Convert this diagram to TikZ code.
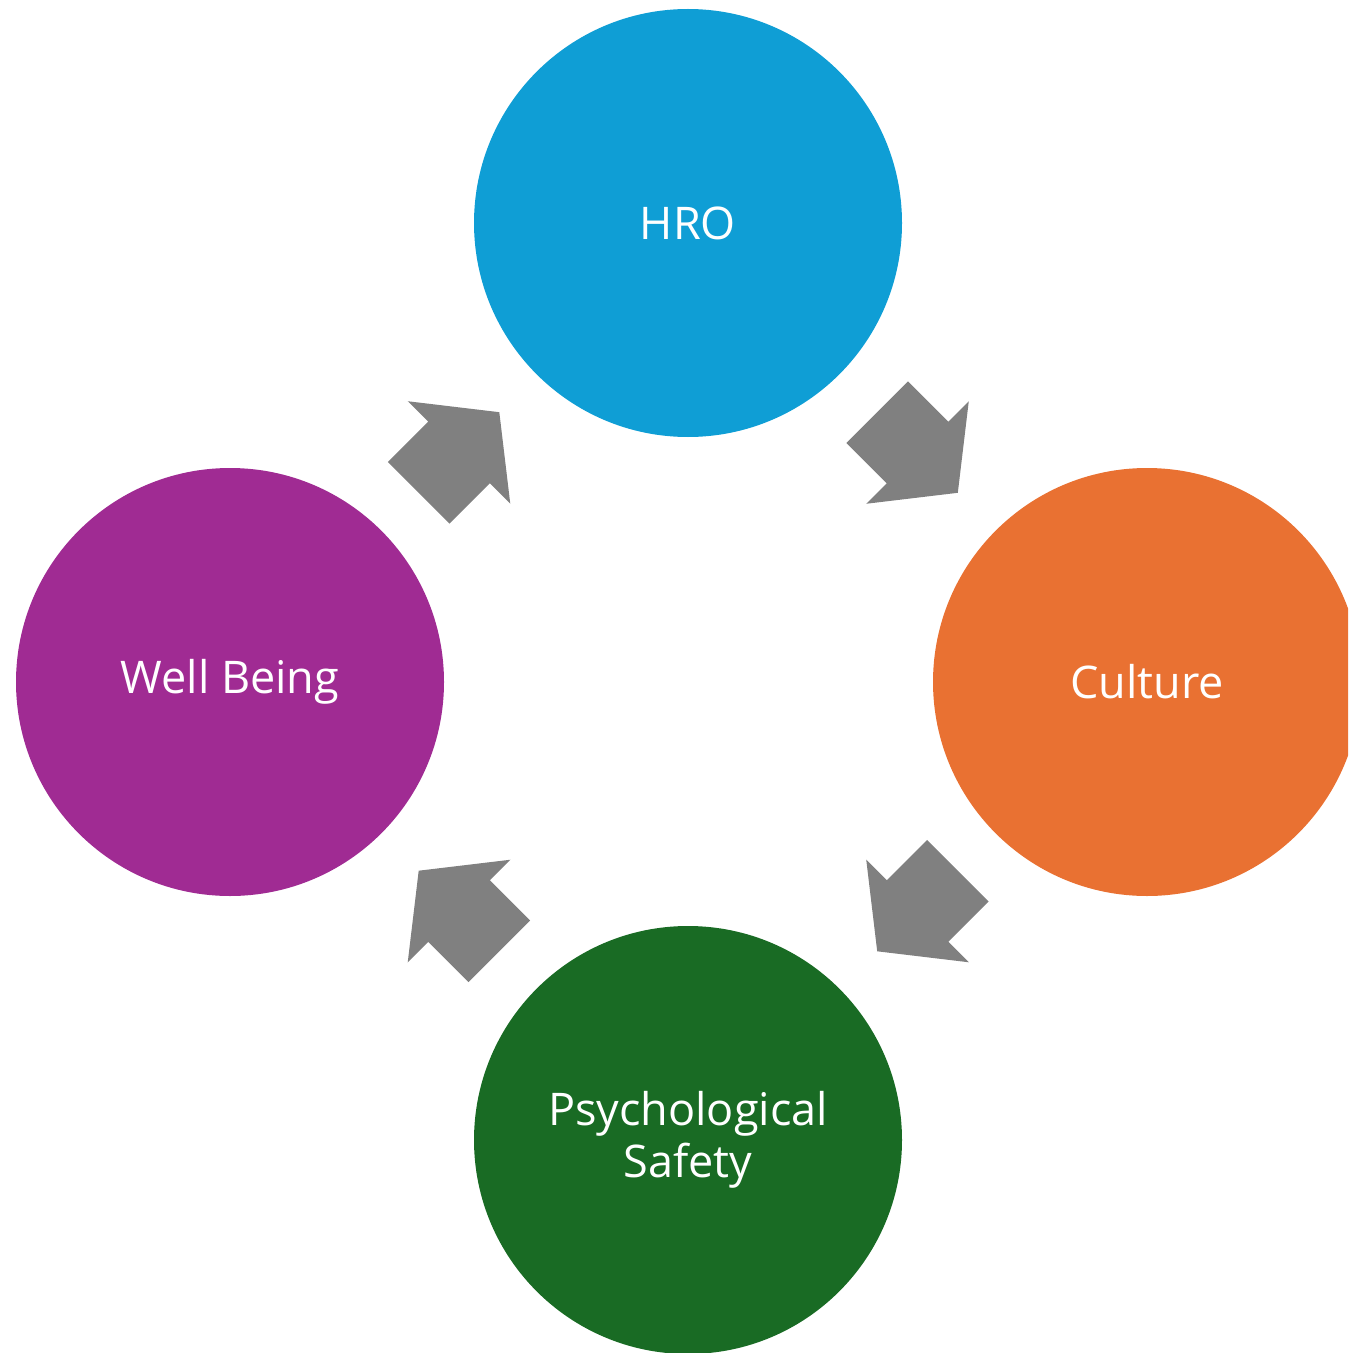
\documentclass[tikz,border=0pt]{standalone}
\usepackage{fontspec}
\setmainfont{Open Sans}
\usetikzlibrary{calc}
\definecolor{hroblue}{HTML}{0F9ED5}
\definecolor{cultorange}{HTML}{E97132}
\definecolor{psygreen}{HTML}{196B24}
\definecolor{wellpurple}{HTML}{A02B93}
\definecolor{arrowgray}{HTML}{808080}
\tikzset{
  stage/.style={circle, minimum size=214pt, inner sep=0pt, text=white,
    align=center, font=\fontsize{22.5pt}{26pt}\selectfont},
  cyclearrow/.pic={
    \fill[arrowgray] (-57,43.5) -- (0,43.5) -- (0,72.5) -- (57,0)
      -- (0,-72.5) -- (0,-43.5) -- (-57,-43.5) -- cycle;
  }
}
\begin{document}
\begin{tikzpicture}[x=0.5pt, y=0.5pt]
  \useasboundingbox (0,0) rectangle (1348,-1353);
  \clip (0,0) rectangle (1348,-1353);
  % four stages of the cycle
  \node[stage, fill=hroblue]    (hro)  at (688,-223)  {HRO};
  \node[stage, fill=cultorange] (cult) at (1147,-682) {Culture};
  \node[stage, fill=psygreen]   (psy)  at (688,-1140) {Psychological\\Safety};
  \node[stage, fill=wellpurple] (well) at (230,-682)  {Well Being};
  % block arrows between consecutive stages
  \pic[rotate=-45]  at ($(hro)!0.5!(cult)$) {cyclearrow};
  \pic[rotate=-135] at ($(cult)!0.5!(psy)$) {cyclearrow};
  \pic[rotate=135]  at ($(psy)!0.5!(well)$) {cyclearrow};
  \pic[rotate=45]   at ($(well)!0.5!(hro)$) {cyclearrow};
\end{tikzpicture}
\end{document}
